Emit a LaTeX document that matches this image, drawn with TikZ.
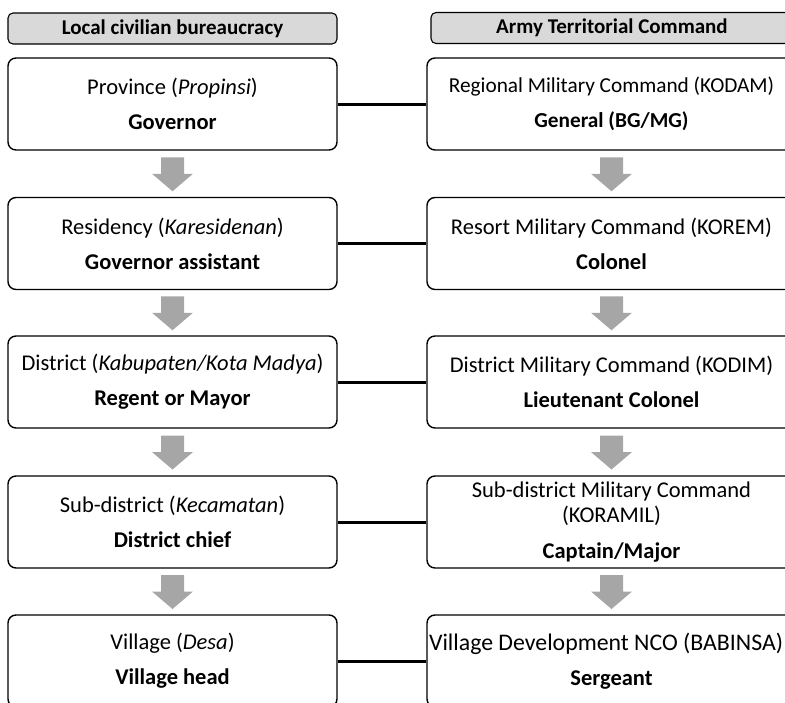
\documentclass[tikz,border=0pt]{standalone}
\usepackage{fontspec}
\setmainfont{Carlito}
\usetikzlibrary{calc}
\definecolor{headfill}{HTML}{D9D9D9}
\definecolor{arrowgray}{HTML}{A6A6A6}
\tikzset{
  basefont/.style={font=\fontsize{22.5}{25}\selectfont},
  levelbox/.style={draw, rounded corners=8pt, line width=1.4pt, align=center,
    minimum height=92pt, inner sep=0pt, basefont},
  civbox/.style={levelbox, minimum width=329pt},
  milbox/.style={levelbox, minimum width=369pt},
  headbox/.style={draw, fill=headfill, rounded corners=5pt, line width=1.1pt,
    minimum height=31pt, inner sep=0pt, font=\fontsize{21}{24}\selectfont\bfseries},
  link/.style={line width=3pt},
}
% gray block arrow pointing down, centred on the gap between two boxes
\newcommand{\downarrowblock}[2]{%
  \path let \p1 = ($(#1.south)!0.5!(#2.north)$) in
    [fill=arrowgray]
    (\x1-11.5pt,\y1+16.5pt) -- (\x1+11.5pt,\y1+16.5pt) -- (\x1+11.5pt,\y1)
    -- (\x1+20.5pt,\y1) -- (\x1,\y1-17.5pt) -- (\x1-20.5pt,\y1)
    -- (\x1-11.5pt,\y1) -- cycle;}
\begin{document}
\begin{tikzpicture}[x=1pt,y=-1pt]
\useasboundingbox (0,0) rectangle (785,702);
\clip (0,0) rectangle (785,702);

% column headers
\node[headbox, minimum width=329pt] (hL) at (172.5,28.5) {Local civilian bureaucracy};
\node[headbox, minimum width=362pt] (hR) at (612,28) {Army Territorial Command};

% civilian hierarchy
\node[civbox] (L1) at (172.5,104) {Province (\textit{Propinsi})\\[10pt]\textbf{Governor}};
\node[civbox] (L2) at (172.5,243.5) {Residency (\textit{Karesidenan})\\[10pt]\textbf{Governor assistant}};
\node[civbox] (L3) at (172.5,382) {District (\textit{Kabupaten/Kota Madya})\\[10pt]\textbf{Regent or Mayor}};
\node[civbox] (L4) at (172.5,522) {Sub-district (\textit{Kecamatan})\\[10pt]\textbf{District chief}};
\node[civbox] (L5) at (172.5,661) {Village (\textit{Desa})\\[10pt]\textbf{Village head}};

% military hierarchy
\node[milbox, font=\fontsize{21.3}{24}\selectfont] (R1) at (611.5,104)
  {Regional Military Command (KODAM)\\[11pt]\textbf{General (BG/MG)}};
\node[milbox] (R2) at (611.5,243.5) {Resort Military Command (KOREM)\\[10pt]\textbf{Colonel}};
\node[milbox] (R3) at (611.5,382) {District Military Command (KODIM)\\[10pt]\textbf{Lieutenant Colonel}};
\node[milbox] (R4) at (611.5,522) {Sub-district Military Command\\(KORAMIL)\\[11pt]\textbf{Captain/Major}};
\node[milbox] (R5) at (611.5,661)
  {{\fontsize{23.8}{25}\selectfont Village Development NCO (BABINSA)}\hspace*{11pt}\\[10pt]\textbf{Sergeant}};

% links between matching levels
\foreach \i in {1,...,5} \draw[link] (L\i.east) -- (R\i.west);

% descending arrows
\foreach \a/\b in {1/2,2/3,3/4,4/5} {
  \downarrowblock{L\a}{L\b}
  \downarrowblock{R\a}{R\b}
}
\end{tikzpicture}
\end{document}
